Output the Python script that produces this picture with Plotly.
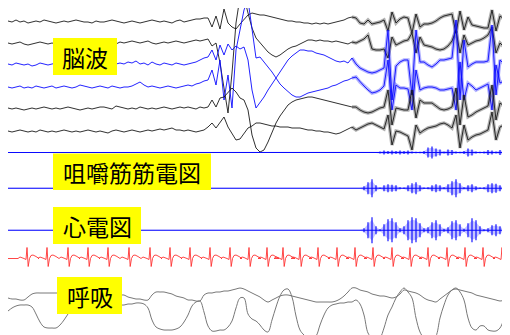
import numpy as np
import plotly.graph_objects as go

# ---------------- data ----------------
# common time axis of the recording (chart x units)
t = np.arange(8, 509, 4)

# EEG channels: deflection of each channel (downward positive, chart units)
eeg_ch1 = [0,1,-1,1,0,2,1,0,1,-1, 0,1,2,1,0,1,0,-1,0,1, 1,2,0,1,1,0,-1,0,1,2, 1,0,1,2,1,0,-1,0,1,0, 1,2,0,-1,1,0,-1,-2,-2,-3,
           -3,6,-5,8,-12,2,6,8,3,-1, -6,-8,-7,-6,-6,-5,-4,-3,-2,-1, 0,0,1,1,2,2,3,2,3,2, 3,2,1,0,-1,-3,-4,-3,2,3,
           -1,3,2,1,-1,10,-9,2,-2,-4, -3,12,-7,6,3,3,2,0,-3,-5, -6,-7,12,-10,9,-4,4,5,6,7, 7,-11,10,-5,-2,0]
eeg_ch2 = [0,1,0,-1,1,2,1,0,-1,0, 1,0,1,2,0,-1,0,1,0,1, 0,-1,0,1,2,1,0,1,-1,0, -1,-2,-1,0,-1,-2,0,1,0,-1, 0,-1,-2,-1,0,-1,-2,-3,-2,-3,
           -4,3,0,20,45,70,30,-20,-46,-46, -30,-15,-5,0,4,9,12,14,12,9, 6,4,3,1,-1,-3,-3,-2,-3,-2, -2,-1,-2,-1,0,1,-1,0,-2,-4,
           -8,6,7,7,6,15,-6,2,0,-2, -3,-10,10,-6,2,3,4,6,7,6, 3,-2,-12,10,-8,2,0,-2,-3,-5, -8,-16,10,0,4,7]
eeg_ch3 = [0,1,-1,0,1,0,2,1,-1,0, 1,0,-1,1,2,0,-1,1,0,2, 1,-1,0,1,0,2,1,0,-1,0, -2,-1,-3,0,-1,1,-2,0,1,-1, 0,1,-1,0,1,0,-1,-2,-4,-6,
           -7,-14,-4,-19,-9,-20,-14,-18,-15,-17, -4,26,44,39,33,26,20,14,8,2, -4,-8,-11,-14,-14,-13,-13,-11,-10,-9, -7,-5,-3,-2,-3,-1,-6,0,4,6,
           8,9,8,6,4,-34,36,2,-2,-4, -4,31,-34,-2,-2,1,3,0,-4,-4, -5,-6,-44,36,-24,3,0,-2,-2,-2, -3,-39,31,-4,0,3]
eeg_ch4 = [0,1,0,-1,1,0,1,-1,0,1, 0,-1,1,0,-1,0,1,0,-2,-1, 0,1,0,-1,0,1,-1,0,1,0, 0,-1,-3,-5,-2,0,-1,0,1,0, -1,0,1,0,-1,-2,-1,-3,-4,-6,
           -7,-17,-2,-27,13,-12,21,-37,-57,-77, -87,-57,-29,-30,-25,-21,-15,-9,-3,1, 5,8,10,10,8,6,5,4,3,2, 1,-1,-2,-4,-6,-7,-9,-10,-5,-1,
           3,6,5,3,-1,-27,23,-2,1,1, 2,23,-17,3,1,0,0,1,3,3, 2,1,23,-25,13,-4,-1,3,1,-1, -3,23,-22,-4,-6,-7]
eeg_ch5 = [0,1,0,1,2,1,0,1,0,-1, 0,1,0,1,0,-1,0,1,2,1, 0,1,0,-1,-1,0,1,-2,-1,0, 1,0,1,-1,0,1,0,1,0,-1, 0,1,0,-1,0,-1,0,1,-1,0,
           -1,-8,-1,-10,-11,-16,-20,-16,-10,-8, 2,27,40,44,42,34,24,15,8,2, -3,-6,-8,-9,-10,-11,-11,-10,-9,-8, -7,-6,-5,-4,-3,-2,-1,-1,2,4,
           5,4,2,0,-1,-18,17,0,1,2, 2,-18,10,-8,-5,-5,-5,-2,1,2, 1,-1,-20,17,-13,9,7,4,2,0, -2,-23,12,-5,-2,2]
eeg_ch6 = [0,1,0,-1,0,1,0,1,-1,0, 1,0,1,0,-1,0,1,0,1,0, -1,0,1,0,1,2,0,-1,0,1, 0,-1,0,1,0,-1,0,-1,-2,-1, -2,-3,-1,-1,0,-1,0,1,0,-1,
           -4,-8,-3,-8,-14,-4,3,9,8,2, -3,-5,-8,-8,-7,-6,-5,-5,-4,-4, -4,-3,-3,-3,-2,-1,-1,0,0,1, 1,2,3,2,0,-2,-4,-1,-3,-5,
           -7,-8,-6,-4,-2,-16,14,0,1,3, 5,19,-6,2,-1,-3,-4,-5,-7,-8, -6,-3,-16,17,-6,9,6,4,3,1, -1,-19,9,-4,-6,-8]

# masticatory EMG: burst amplitude envelopes
emg1_amp = [0.6] * 93 + [1,2,1.5,2,1.5,2,1.5,2,1,0.8, 0.8,1.5,5,6,4,3,1,3,2.5,1, 0.8,1.5,4,3,1,0.8,1,2.5,2,1, 2.5,2,1.5]
emg2_amp = [0.6] * 89 + [2,6,9,3,0.8,3,4,3.5,3,1, 0.8,3,5,6,3,0.8,1,3,4,3, 1,4,7,9,5,1,3,4,2,0.8, 1,4,5,4.5,3,1,0.8]
emg3_amp = [0.6] * 89 + [2,8,13,4,1,6,11,12,8,2, 4,10,13,12,7,2,3,8,10,6, 1.5,3,9,10,6,1.5,7,12,10,4, 1,2,5,6,4,1.5,3]

# ECG: R-peak times and one beat waveform (offset from R, height)
ecg_r_times = [27, 47, 68, 88, 108, 129, 150, 170, 190, 210, 230, 249, 267,
               283, 300, 318, 337, 355, 373, 392, 410, 428, 447, 465, 483, 502]
ecg_beat_offsets = [-9, -7, -5, -3, -1, 0, 1.2, 2.5, 4, 6, 9, 12]
ecg_beat_values = [0, 1.5, 1, 0, -1, 11, -8, 0, 3, 3.5, 2, 0]

# respiration (two belts), chart values
resp_upper = [298,299,299,300,300,297,294,293,293,293, 293,293,293,293,293,293,293,293,293,293,
              293,293,293,293,293,294,294,294,295,295, 297,298,299,299,300,300,295,292,292,292,
              293,294,296,297,298,300,300,301,301,295, 293,293,292,292,291,291,290,289,288,289,
              291,293,295,297,300,302,300,298,296,295, 295,296,297,298,299,300,301,302,302,302,
              302,302,301,299,296,292,288,288,290,291, 292,294,295,296,296,297,298,297,294,290,
              291,292,293,295,298,300,301,302,299,296, 293,290,289,290,291,292,293,295,296,297,
              298,299,300,301,300,296]
resp_lower = [311,308,306,305,305,305,307,314,322,327, 328,328,328,325,320,314,309,307,306,306,
              305,305,305,305,305,305,305,305,305,305, 304,304,303,303,304,308,320,327,329,330,
              330,330,329,327,322,315,306,302,301,312, 326,331,331,330,330,327,321,308,298,298,
              314,319,321,325,330,332,320,307,296,290, 289,297,316,330,335,338,338,336,325,315,
              308,305,304,303,303,302,302,300,304,315, 333,338,340,338,328,315,307,298,292,288,
              292,298,318,332,338,340,340,336,318,305, 295,290,288,292,300,318,328,330,326,326,
              330,331,331,328,320,316]

labels = ["脳波", "咀嚼筋筋電図", "心電図", "呼吸"]

for arr in [eeg_ch1, eeg_ch2, eeg_ch3, eeg_ch4, eeg_ch5, eeg_ch6,
            emg1_amp, emg2_amp, emg3_amp, resp_upper, resp_lower]:
    assert len(arr) == len(t), len(arr)

# ---------------- layout / style ----------------
BLACK = "rgb(25,25,25)"
BLUE = "rgb(10,10,255)"
eeg_channels = [eeg_ch1, eeg_ch2, eeg_ch3, eeg_ch4, eeg_ch5, eeg_ch6]
eeg_base = [21, 43, 64, 87, 108, 131]
eeg_color = [BLACK, BLACK, BLUE, BLUE, BLACK, BLACK]
eeg_halo = ["rgba(0,0,0,0.3)", "rgba(0,0,0,0.3)", "rgba(0,0,255,0.3)",
            "rgba(0,0,255,0.3)", "rgba(0,0,0,0.3)", "rgba(0,0,0,0.3)"]

fig = go.Figure()

right = t >= 352
for sig, base, col, halo in zip(eeg_channels, eeg_base, eeg_color, eeg_halo):
    y = base + np.array(sig, dtype=float)
    fig.add_trace(go.Scatter(x=t[right], y=y[right], mode="lines",
                             line=dict(color=halo, width=3.5), hoverinfo="skip"))
    fig.add_trace(go.Scatter(x=t, y=y, mode="lines",
                             line=dict(color=col, width=0.9), hoverinfo="skip"))

emg_base = [152.5, 188.3, 230.2]
for amp, base in zip([emg1_amp, emg2_amp, emg3_amp], emg_base):
    a = np.array(amp, dtype=float)
    # light envelope
    fig.add_trace(go.Scatter(
        x=np.concatenate([t, t[::-1]]),
        y=np.concatenate([base - a * 0.8, (base + a * 0.8)[::-1]]),
        mode="lines", fill="toself", fillcolor="rgba(90,90,255,0.35)", line=dict(width=0),
        hoverinfo="skip"))
    # spiky burst strokes (only where there is activity)
    act = a > 0.7
    fig.add_trace(go.Scatter(
        x=t[act], y=np.full(int(act.sum()), base), mode="markers",
        marker=dict(size=0.1, opacity=0),
        error_y=dict(type="data", array=a[act], symmetric=True, color="rgba(0,0,255,0.85)",
                     thickness=1.3, width=0),
        hoverinfo="skip"))
    fig.add_trace(go.Scatter(x=t, y=np.full(len(t), base), mode="lines",
                             line=dict(color=BLUE, width=1.1), hoverinfo="skip"))

# ECG built from beat times and beat waveform
ex, ev = [7.0], [0.0]
for r in ecg_r_times:
    for o, v in zip(ecg_beat_offsets, ecg_beat_values):
        ex.append(r + o)
        ev.append(v)
ex.append(508.0)
ev.append(0.0)
ecg_base = 258.5
fig.add_trace(go.Scatter(x=ex, y=ecg_base - np.array(ev), mode="lines",
                         line=dict(color="rgb(255,50,50)", width=0.9), hoverinfo="skip"))

for resp in [resp_upper, resp_lower]:
    fig.add_trace(go.Scatter(x=t, y=resp, mode="lines", line_shape="spline",
                             line=dict(color="rgb(120,120,120)", width=1), hoverinfo="skip"))

# yellow label boxes
boxes = [(53, 117, 38, 75), (53, 211, 153.5, 190), (53, 141, 207, 244), (57, 122, 277, 314)]
for (x0, x1, y0, y1), txt in zip(boxes, labels):
    fig.add_shape(type="rect", x0=x0, x1=x1, y0=y0, y1=y1,
                  fillcolor="rgb(255,255,0)", line=dict(width=0), layer="above")
    fig.add_annotation(x=(x0 + x1) / 2, y=(y0 + y1) / 2 + 0.5, text=txt, showarrow=False,
                       xanchor="center", yanchor="middle",
                       font=dict(family="Noto Sans CJK JP", size=23, color="black"))

# the page body has an 8 px margin, so the axes start at chart value 8
PAGE_OFFSET = 8
fig.update_layout(
    width=510, height=335,
    margin=dict(l=0, r=0, t=0, b=0),
    paper_bgcolor="white", plot_bgcolor="white",
    showlegend=False,
    xaxis=dict(range=[PAGE_OFFSET, 510 + PAGE_OFFSET], visible=False, fixedrange=True),
    yaxis=dict(range=[335 + PAGE_OFFSET, PAGE_OFFSET], visible=False, fixedrange=True),
)

fig.write_html("out.html")
